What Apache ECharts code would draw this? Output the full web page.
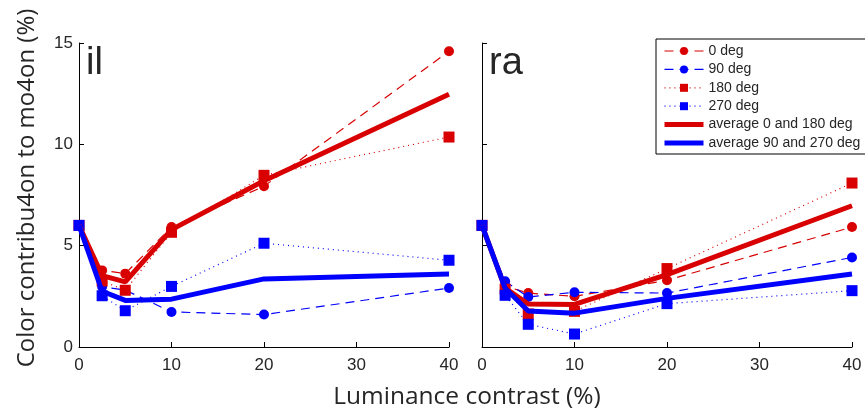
<!DOCTYPE html>
<html>
<head>
<meta charset="utf-8">
<script src="https://cdn.jsdelivr.net/npm/echarts@6/dist/echarts.min.js"></script>
<style>html,body{margin:0;padding:0;background:#fff;}#c{width:865px;height:413px;}</style>
</head>
<body>
<div id="c"></div>
<script>
// Luminance contrast values (%)
var contrast = [0, 2.5, 5, 10, 20, 40];
var xTicks = [0, 10, 20, 30, 40];
var yTicks = [0, 5, 10, 15];
var panelNames = ['il', 'ra'];
var seriesNames = ['0 deg', '90 deg', '180 deg', '270 deg', 'average 0 and 180 deg', 'average 90 and 270 deg'];

// Panel "il"
var il_0deg   = [6.0, 3.78, 3.62, 5.92, 7.93, 14.59];
var il_90deg  = [6.0, 2.97, 2.81, 1.73, 1.60, 2.91];
var il_180deg = [6.0, 3.26, 2.80, 5.66, 8.47, 10.36];
var il_270deg = [6.0, 2.53, 1.79, 2.99, 5.12, 4.28];
var il_avg0_180  = [6.0, 3.52, 3.21, 5.79, 8.20, 12.47];
var il_avg90_270 = [6.0, 2.75, 2.30, 2.36, 3.36, 3.60];

// Panel "ra"
var ra_0deg   = [6.0, 3.00, 2.66, 2.50, 3.29, 5.92];
var ra_90deg  = [6.0, 3.24, 2.47, 2.70, 2.66, 4.42];
var ra_180deg = [6.0, 2.85, 1.63, 1.76, 3.87, 8.09];
var ra_270deg = [6.0, 2.55, 1.12, 0.64, 2.14, 2.78];
var ra_avg0_180  = [6.0, 2.91, 2.12, 2.10, 3.57, 6.97];
var ra_avg90_270 = [6.0, 2.90, 1.78, 1.67, 2.40, 3.60];

var RED = '#d80000', BLUE = '#0000ff';
var tickFont = 'Liberation Sans, Arial, Helvetica, sans-serif';

function pairs(vals) { return contrast.map(function (x, i) { return [x, vals[i]]; }); }

var styles = [
  {color: RED,  type: [9, 6], width: 1.2, symbol: 'circle', size: 10},
  {color: BLUE, type: [9, 6], width: 1.2, symbol: 'circle', size: 10},
  {color: RED,  type: [1, 4], width: 1.2, symbol: 'rect', size: 11},
  {color: BLUE, type: [1, 4], width: 1.2, symbol: 'rect', size: 11},
  {color: RED,  type: 'solid', width: 5, symbol: 'none', size: 0},
  {color: BLUE, type: 'solid', width: 5, symbol: 'none', size: 0}
];
var panelData = [
  [il_0deg, il_90deg, il_180deg, il_270deg, il_avg0_180, il_avg90_270],
  [ra_0deg, ra_90deg, ra_180deg, ra_270deg, ra_avg0_180, ra_avg90_270]
];

var series = [];
panelData.forEach(function (arrs, p) {
  arrs.forEach(function (vals, k) {
    var s = styles[k];
    series.push({
      name: seriesNames[k], type: 'line', xAxisIndex: p, yAxisIndex: p,
      data: pairs(vals), symbol: s.symbol, symbolSize: s.size, showSymbol: s.symbol !== 'none',
      lineStyle: {color: s.color, width: s.width, type: s.type},
      itemStyle: {color: s.color}, emphasis: {disabled: true}, animation: false, clip: false, z: 2 + k
    });
  });
});

function xAxis(grid) {
  return {
    type: 'value', gridIndex: grid, min: xTicks[0], max: xTicks[xTicks.length - 1], interval: 10,
    axisLine: {show: true, onZero: false, lineStyle: {color: '#000', width: 1}},
    axisTick: {show: true, inside: true, length: 5, lineStyle: {color: '#000'}},
    axisLabel: {color: '#262626', fontSize: 17, fontFamily: tickFont, margin: 10},
    splitLine: {show: false}
  };
}
function yAxis(grid, labels) {
  return {
    type: 'value', gridIndex: grid, min: yTicks[0], max: yTicks[yTicks.length - 1], interval: 5,
    axisLine: {show: true, onZero: false, lineStyle: {color: '#000', width: 1}},
    axisTick: {show: true, inside: true, length: 5, lineStyle: {color: '#000'}},
    axisLabel: {show: labels, color: '#262626', fontSize: 17, fontFamily: tickFont, margin: 6},
    splitLine: {show: false}
  };
}

var legendData = seriesNames.map(function (n, k) {
  var item = {name: n, lineStyle: {width: styles[k].width, type: styles[k].type, color: styles[k].color}};
  if (styles[k].symbol === 'none') item.itemStyle = {opacity: 0};
  return item;
});

var chart = echarts.init(document.getElementById('c'), null, {renderer: 'canvas'});
chart.setOption({
  backgroundColor: '#fff',
  animation: false,
  grid: [
    {left: 79, right: 416, top: 43, bottom: 66},
    {left: 482, right: 13, top: 43, bottom: 66}
  ],
  xAxis: [xAxis(0), xAxis(1)],
  yAxis: [yAxis(0, true), yAxis(1, false)],
  legend: {
    orient: 'vertical', left: 656, top: 39,
    data: legendData,
    backgroundColor: '#fff', borderColor: '#000', borderWidth: 1,
    padding: [5, 6, 4, 6], itemWidth: 39, itemHeight: 10, itemGap: 4.4,
    textStyle: {color: '#262626', fontSize: 14, fontFamily: tickFont},
    selectedMode: false, z: 20
  },
  graphic: [
    {type: 'text', left: 86, top: 45, style: {text: panelNames[0], fontSize: 38, fontFamily: tickFont, fill: '#262626'}},
    {type: 'text', left: 489, top: 45, style: {text: panelNames[1], fontSize: 38, fontFamily: tickFont, fill: '#262626'}},
    {type: 'text', x: 467, y: 397, style: {text: 'Luminance contrast (%)', fontSize: 24.5, fontFamily: 'Open Sans, Lato, sans-serif', fill: '#262626', align: 'center', verticalAlign: 'middle'}},
    {type: 'text', x: 27, y: 188, rotation: Math.PI / 2, style: {text: 'Color contribu4on to mo4on (%)', fontSize: 24, fontFamily: 'Open Sans, Lato, sans-serif', fill: '#262626', align: 'center', verticalAlign: 'middle'}}
  ],
  series: series
});
</script>
</body>
</html>
